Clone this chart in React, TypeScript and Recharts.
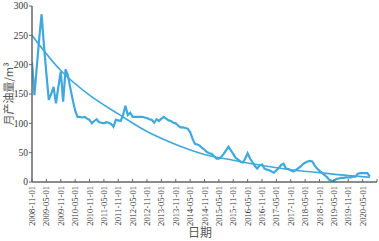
import React from 'react';
import { LineChart, Line, XAxis, YAxis } from 'recharts';

// Monthly oil production, starting 2008-11 (one value per month)
const monthlyOil: number[] = [
  205, 148, 196, 244, 286, 232, 185, 140, 150, 162,
  134, 162, 188, 137, 192, 182, 160, 140, 122, 111,
  111, 110, 111, 108, 106, 100, 104, 107, 102, 101,
  100, 102, 101, 99, 94, 106, 105, 104, 114, 130,
  114, 118, 111, 111, 111, 111, 111, 110, 109, 107,
  106, 101, 107, 104, 108, 111, 108, 105, 104, 101,
  100, 96, 93, 93, 92, 91, 85, 74, 65, 64,
  62, 58, 55, 51, 49, 48, 44, 40, 40, 43,
  48, 54, 60, 54, 48, 41, 38, 35, 33, 40,
  49, 40, 34, 27, 23, 28, 30, 23, 21, 20,
  18, 16, 20, 24, 29, 31, 23, 22, 20, 18,
  20, 23, 26, 30, 33, 35, 36, 35, 28, 23,
  19, 16, 12, 9, 4, 2, 2, 5, 6, 7,
  7, 8, 8, 8, 9, 9, 14, 15, 15, 15,
  15, 9,
];

// Fitted decline curve, read at month offsets
const trendMonths: number[] = [0, 12, 24, 36, 48, 60, 72, 84, 96, 108, 120, 132, 141];
const trendValues: number[] = [250, 190, 148, 116, 86, 64, 47, 37, 28, 21, 16, 11, 8];

const xTickMonths: number[] = [0, 6, 12, 18, 24, 30, 36, 42, 48, 54, 60, 66, 72, 78, 84, 90, 96, 102, 108, 114, 120, 126, 132, 138, 144];
const xTickLabels: string[] = [
  '2008-11-01', '2009-05-01', '2009-11-01', '2010-05-01', '2010-11-01', '2011-05-01',
  '2011-11-01', '2012-05-01', '2012-11-01', '2013-05-01', '2013-11-01', '2014-05-01',
  '2014-11-01', '2015-05-01', '2015-11-01', '2016-05-01', '2016-11-01', '2017-05-01',
  '2017-11-01', '2018-05-01', '2018-11-01', '2019-05-01', '2019-11-01', '2020-05-01', '',
];
const yTicks: number[] = [0, 50, 100, 150, 200, 250, 300];

const oilData = monthlyOil.map((v, i) => ({ m: i, oil: v }));
const trendData = trendMonths.map((m, k) => ({ m, trend: trendValues[k] }));

const LINE_COLOR = '#3fa9dd';
const AXIS_COLOR = '#666666';
const FONT = '"Liberation Serif", "Times New Roman", serif';

const XTick = (props: any) => {
  const { x, y, payload } = props;
  const idx = xTickMonths.indexOf(payload.value);
  const label = idx >= 0 ? xTickLabels[idx] : '';
  return (
    <g>
      <line x1={x} y1={y} x2={x} y2={y - 3} stroke={AXIS_COLOR} strokeWidth={1} />
      <text
        x={x}
        y={y + 4}
        transform={`rotate(-90, ${x}, ${y + 4})`}
        textAnchor="end"
        dominantBaseline="central"
        fontSize={8.6}
        fontFamily={FONT}
        fill="#333"
      >
        {label}
      </text>
    </g>
  );
};

export default function App() {
  return (
    <div style={{ position: 'absolute', left: 0, top: 0, width: 379, height: 241, background: '#fff' }}>
      <LineChart
        width={379}
        height={241}
        margin={{ top: 6, right: 2, bottom: 0, left: 0 }}
      >
        <XAxis
          type="number"
          dataKey="m"
          domain={[0, 144]}
          ticks={xTickMonths}
          interval={0}
          height={59}
          tickSize={0}
          tickMargin={0}
          tick={<XTick />}
          axisLine={{ stroke: AXIS_COLOR, strokeWidth: 1.5 }}
          allowDataOverflow
        />
        <YAxis
          type="number"
          domain={[0, 300]}
          ticks={yTicks}
          width={32}
          tickSize={3}
          tickMargin={1}
          axisLine={{ stroke: AXIS_COLOR, strokeWidth: 1.5 }}
          tickLine={{ stroke: AXIS_COLOR }}
          tick={{ fontSize: 9.5, fontFamily: FONT, fill: '#333' }}
        />
        <Line
          data={trendData}
          dataKey="trend"
          type="monotone"
          stroke={LINE_COLOR}
          strokeWidth={1.6}
          dot={false}
          isAnimationActive={false}
        />
        <Line
          data={oilData}
          dataKey="oil"
          type="linear"
          stroke={LINE_COLOR}
          strokeWidth={2.2}
          dot={false}
          isAnimationActive={false}
        />
      </LineChart>
      <div
        style={{
          position: 'absolute',
          left: 8,
          top: 94,
          transform: 'translate(-50%, -50%) rotate(-90deg)',
          whiteSpace: 'nowrap',
          fontSize: 11,
          fontFamily: '"Noto Sans CJK SC", sans-serif',
          color: '#555',
          lineHeight: 1,
        }}
      >
        月产油量/m³
      </div>
      <div
        style={{
          position: 'absolute',
          left: 200,
          top: 232,
          transform: 'translate(-50%, -50%)',
          whiteSpace: 'nowrap',
          fontSize: 12,
          fontFamily: '"Noto Sans CJK SC", sans-serif',
          color: '#555',
          lineHeight: 1,
        }}
      >
        日期
      </div>
    </div>
  );
}
